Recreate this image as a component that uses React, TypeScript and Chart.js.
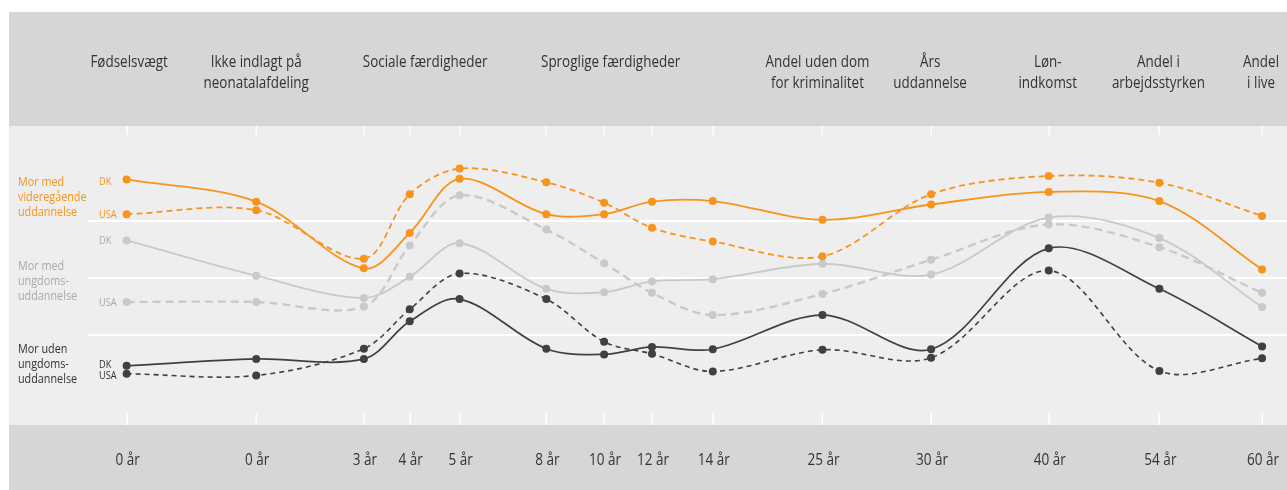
import React, { useEffect, useRef } from "react";
import { Chart, registerables } from "chart.js";

Chart.register(...registerables);

// Axis slots (irregular layout spacing of the age points, in axis units)
const xSlots = [11.8, 24.8, 35.6, 40.2, 45.2, 53.9, 59.7, 64.5, 70.6, 81.6, 92.5, 104.3, 115.4, 125.7];
const ageLabels = ["0 år", "0 år", "3 år", "4 år", "5 år", "8 år", "10 år", "12 år", "14 år", "25 år", "30 år", "40 år", "54 år", "60 år"];

// Outcome headings and where they sit on the axis
const headerLabels: string[][] = [
  ["Fødselsvægt"],
  ["Ikke indlagt på", "neonatalafdeling"],
  ["Sociale færdigheder"],
  ["Sproglige færdigheder"],
  ["Andel uden dom", "for kriminalitet"],
  ["Års", "uddannelse"],
  ["Løn-", "indkomst"],
  ["Andel i", "arbejdsstyrken"],
  ["Andel", "i live"],
];
const headerSlots = [12.05, 24.8, 41.75, 60.35, 81.1, 92.4, 104.2, 115.3, 125.6];

// Series values (relative index)
const highDK = [3.73, 3.34, 2.17, 2.79, 3.74, 3.12, 3.12, 3.34, 3.35, 3.02, 3.29, 3.51, 3.35, 2.15];
const highUSA = [3.12, 3.19, 2.34, 3.47, 3.92, 3.68, 3.32, 2.88, 2.64, 2.38, 3.47, 3.79, 3.67, 3.09];
const midDK = [2.66, 2.04, 1.65, 2.02, 2.61, 1.81, 1.75, 1.94, 1.98, 2.25, 2.06, 3.06, 2.7, 1.49];
const midUSA = [1.58, 1.58, 1.5, 2.57, 3.45, 2.85, 2.26, 1.74, 1.35, 1.72, 2.32, 2.94, 2.54, 1.74];
const lowDK = [0.46, 0.58, 0.58, 1.24, 1.63, 0.76, 0.66, 0.79, 0.75, 1.35, 0.75, 2.52, 1.81, 0.8];
const lowUSA = [0.32, 0.29, 0.76, 1.45, 2.08, 1.63, 0.88, 0.67, 0.36, 0.74, 0.6, 2.13, 0.37, 0.59];

const groupNames: string[][] = [
  ["Mor med", "videregående", "uddannelse"],
  ["Mor med", "ungdoms-", "uddannelse"],
  ["Mor uden", "ungdoms-", "uddannelse"],
];
const gridValues = [1, 2, 3];

const ORANGE = "#f7941d";
const LIGHT = "#c9c9c9";
const DARK = "#404040";
const FONT = '"Open Sans", "Noto Sans", sans-serif';

function pts(vals: number[]) {
  return vals.map((v, i) => ({ x: xSlots[i], y: v }));
}

function narrowText(ctx: CanvasRenderingContext2D, t: string, x: number, y: number, k: number) {
  ctx.save();
  ctx.translate(x, y);
  ctx.scale(k, 1);
  ctx.fillText(t, 0, 0);
  ctx.restore();
}

export default function App() {
  const ref = useRef<HTMLCanvasElement | null>(null);

  useEffect(() => {
    const canvas = ref.current;
    if (!canvas) return;

    const decor = {
      id: "decor",
      beforeDraw(chart: any) {
        const { ctx, chartArea: a, scales } = chart;
        const xs = scales.x;
        const ys = scales.y;
        const W = chart.width;
        const H = chart.height;
        ctx.save();
        ctx.fillStyle = "#ffffff";
        ctx.fillRect(0, 0, W, H);
        // header band
        ctx.fillStyle = "#d5d6d5";
        ctx.fillRect(a.left, 12, W - a.left, a.top - 12);
        // panel
        ctx.fillStyle = "#edeeed";
        ctx.fillRect(a.left, a.top, W - a.left, a.bottom - a.top);
        // footer band
        ctx.fillStyle = "#d5d6d5";
        ctx.fillRect(a.left, a.bottom, W - a.left, H - a.bottom);
        // grid lines
        ctx.strokeStyle = "#ffffff";
        ctx.lineWidth = 2;
        gridValues.forEach((g) => {
          const y = Math.round(ys.getPixelForValue(g));
          ctx.beginPath();
          ctx.moveTo(88, y);
          ctx.lineTo(W, y);
          ctx.stroke();
        });
        // tick marks
        ctx.lineWidth = 1.5;
        xSlots.forEach((s) => {
          const x = Math.round(xs.getPixelForValue(s)) + 0.25;
          ctx.beginPath();
          ctx.moveTo(x, a.top);
          ctx.lineTo(x, a.top + 9);
          ctx.moveTo(x, a.bottom - 12);
          ctx.lineTo(x, a.bottom);
          ctx.stroke();
        });
        // header texts
        ctx.fillStyle = "#333333";
        ctx.textAlign = "center";
        ctx.textBaseline = "middle";
        ctx.font = "16px " + FONT;
        headerLabels.forEach((lines, i) => {
          const x = xs.getPixelForValue(headerSlots[i]);
          lines.forEach((t, j) => narrowText(ctx, t, x, 62 + j * 21, 0.84));
        });
        // age tick labels
        ctx.font = "16.5px " + FONT;
        ageLabels.forEach((t, i) => {
          narrowText(ctx, t, xs.getPixelForValue(xSlots[i]) + 1, 460, 0.82);
        });
        // group legend
        ctx.textAlign = "left";
        ctx.font = "13.5px " + FONT;
        const groupColors = [ORANGE, "#a9a9a9", "#333333"];
        const groupTop = [182, 266, 349];
        groupNames.forEach((lines, i) => {
          ctx.fillStyle = groupColors[i];
          lines.forEach((t, j) => narrowText(ctx, t, 18, groupTop[i] + j * 15.3, 0.8));
        });
        // DK / USA tags
        ctx.font = "11.5px " + FONT;
        const tags = [
          { t: "DK", c: ORANGE, y: 181.5 },
          { t: "USA", c: ORANGE, y: 214.5 },
          { t: "DK", c: "#a9a9a9", y: 241 },
          { t: "USA", c: "#a9a9a9", y: 302.5 },
          { t: "DK", c: "#333333", y: 364.5 },
          { t: "USA", c: "#333333", y: 375.5 },
        ];
        tags.forEach((g) => {
          ctx.fillStyle = g.c;
          narrowText(ctx, g.t, 99, g.y, 0.8);
        });
        ctx.restore();
      },
    };

    const mk = (label: string, vals: number[], color: string, dash: number[], width: number) => ({
      label,
      data: pts(vals),
      borderColor: color,
      backgroundColor: color,
      borderWidth: width,
      borderDash: dash,
      pointRadius: 4,
      pointBorderWidth: 0,
      pointBackgroundColor: color,
      tension: 0.33,
      fill: false,
    });

    const chart = new Chart(canvas, {
      type: "line",
      data: {
        datasets: [
          mk("Videregående DK", highDK, ORANGE, [], 1.8),
          mk("Videregående USA", highUSA, ORANGE, [6, 4], 1.8),
          mk("Ungdoms DK", midDK, LIGHT, [], 1.8),
          mk("Ungdoms USA", midUSA, LIGHT, [8, 5], 2.4),
          mk("Uden DK", lowDK, DARK, [], 1.7),
          mk("Uden USA", lowUSA, DARK, [5, 4], 1.6),
        ],
      },
      options: {
        responsive: false,
        animation: false,
        layout: { padding: { left: 9, top: 126, right: 0, bottom: 65 } },
        plugins: { legend: { display: false }, tooltip: { enabled: false } },
        scales: {
          x: { type: "linear", min: 0, max: 127.8, display: false },
          y: { type: "linear", min: -0.579, max: 4.667, display: false },
        },
      },
      plugins: [decor],
    });
    return () => chart.destroy();
  }, []);

  return (
    <div style={{ position: "fixed", left: 0, top: 0, width: 1287, height: 490 }}>
      <canvas ref={ref} width={1287} height={490} style={{ display: "block" }} />
    </div>
  );
}
